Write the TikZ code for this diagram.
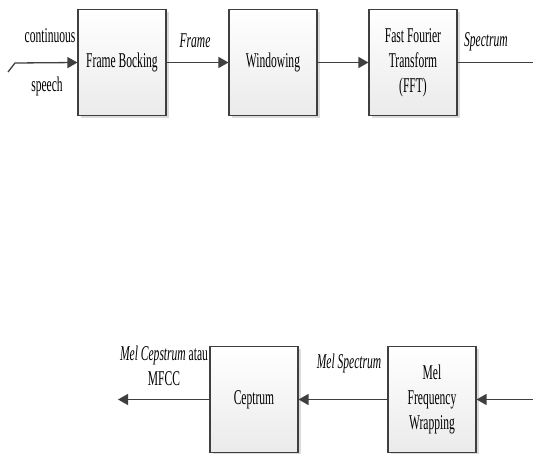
\documentclass[tikz,border=0pt]{standalone}
\usepackage{fontspec}
\setmainfont{Liberation Serif}[FakeStretch=0.55]
\usetikzlibrary{arrows.meta,shadows}
\definecolor{edge}{HTML}{3F3F3F}
\tikzset{
  blk/.style={draw=edge, line width=1.1pt, top color=white, bottom color=black!8,
    minimum width=88pt, minimum height=106pt, inner sep=0pt, align=center,
    general shadow={fill=black!14, shadow xshift=2.5pt, shadow yshift=-2.5pt},
    font=\fontsize{21}{25}\selectfont},
  lbl/.style={inner sep=0pt, align=center, font=\fontsize{21}{25}\selectfont},
  conn/.style={draw=edge, line width=1.3pt},
  arr/.style={conn, -{Triangle[length=10pt,width=11pt]}}
}
\begin{document}
\begin{tikzpicture}[x=1pt,y=-1pt]
\useasboundingbox (0,0) rectangle (533,454);
% top row
\node[blk] (b1) at (122,62.5) {Frame Bocking};
\node[blk] (b2) at (273,62.5) {Windowing};
\node[blk] (b3) at (413,62.5) {Fast Fourier\\Transform\\(FFT)};
\coordinate (in0) at (8,72);
\coordinate (in1) at (15,63);
\coordinate (out1) at (533,62.5);
\draw[arr] (in0) -- (in1) -- (b1.west);
\draw[arr] (b1.east) -- (b2.west);
\draw[arr] (b2.east) -- (b3.west);
\draw[conn] (b3.east) -- (out1);
\node[lbl] (tc) at (50,36) {continuous};
\node[lbl] (ts) at (47,86) {speech};
\node[lbl] (tf) at (195,41) {\itshape Frame};
\node[lbl] (tsp) at (486,42) {\itshape Spectrum};
% bottom row
\node[blk] (c1) at (254,399.5) {Ceptrum};
\node[blk] (c2) at (432,399.5) {Mel\\Frequency\\Wrapping};
\coordinate (in2) at (533,399.5);
\coordinate (out2) at (118,399.5);
\draw[arr] (in2) -- (c2.east);
\draw[arr] (c2.west) -- (c1.east);
\draw[arr] (c1.west) -- (out2);
\node[lbl] (tms) at (349,363) {\itshape Mel Spectrum};
\node[lbl] (tmc) at (164,366) {\textit{Mel Cepstrum} atau\\MFCC};
\end{tikzpicture}
\end{document}
